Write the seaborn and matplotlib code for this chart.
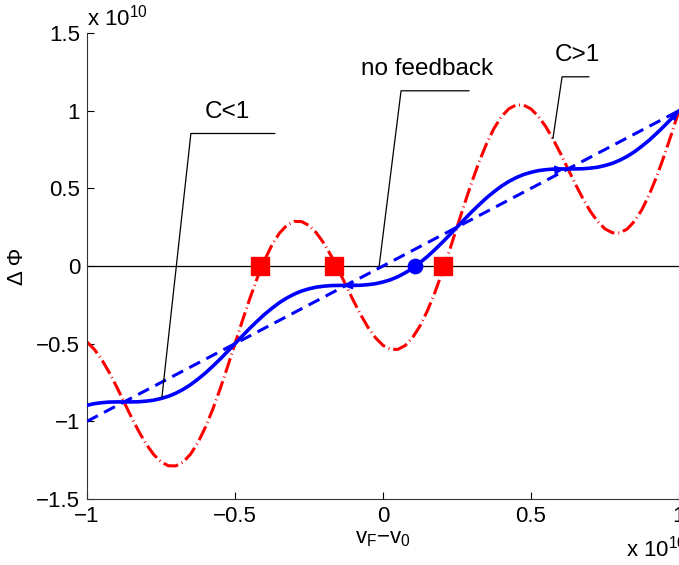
import numpy as np
import pandas as pd
import seaborn as sns
import matplotlib
matplotlib.use("Agg")
import matplotlib.pyplot as plt

# values, in units of 1e10
x_vals = [-1.000, -0.975, -0.950, -0.925, -0.900, -0.875, -0.850, -0.825, -0.800, -0.775,
          -0.750, -0.725, -0.700, -0.675, -0.650, -0.625, -0.600, -0.575, -0.550, -0.525,
          -0.500, -0.475, -0.450, -0.425, -0.400, -0.375, -0.350, -0.325, -0.300, -0.275,
          -0.250, -0.225, -0.200, -0.175, -0.150, -0.125, -0.100, -0.075, -0.050, -0.025,
          0.000, 0.025, 0.050, 0.075, 0.100, 0.125, 0.150, 0.175, 0.200, 0.225,
          0.250, 0.275, 0.300, 0.325, 0.350, 0.375, 0.400, 0.425, 0.450, 0.475,
          0.500, 0.525, 0.550, 0.575, 0.600, 0.625, 0.650, 0.675, 0.700, 0.725,
          0.750, 0.775, 0.800, 0.825, 0.850, 0.875, 0.900, 0.925, 0.950, 0.975, 1.000]
phi_strong = [-0.489, -0.537, -0.603, -0.685, -0.777, -0.875, -0.973, -1.065, -1.147, -1.213,
              -1.261, -1.286, -1.287, -1.262, -1.211, -1.136, -1.038, -0.922, -0.790, -0.648,
              -0.500, -0.352, -0.210, -0.078, 0.038, 0.136, 0.211, 0.262, 0.287, 0.286,
              0.261, 0.213, 0.147, 0.065, -0.027, -0.125, -0.223, -0.315, -0.397, -0.463,
              -0.511, -0.536, -0.537, -0.512, -0.461, -0.386, -0.288, -0.172, -0.040, 0.102,
              0.250, 0.398, 0.540, 0.672, 0.788, 0.886, 0.961, 1.012, 1.037, 1.036,
              1.011, 0.963, 0.897, 0.815, 0.723, 0.625, 0.527, 0.435, 0.353, 0.287,
              0.239, 0.214, 0.213, 0.238, 0.289, 0.364, 0.462, 0.578, 0.710, 0.852, 1.000]
phi_weak = [-0.897, -0.886, -0.880, -0.876, -0.875, -0.875, -0.875, -0.874, -0.870, -0.864,
            -0.853, -0.839, -0.819, -0.794, -0.764, -0.728, -0.689, -0.645, -0.599, -0.550,
            -0.500, -0.450, -0.401, -0.355, -0.311, -0.272, -0.236, -0.206, -0.181, -0.161,
            -0.147, -0.136, -0.130, -0.126, -0.125, -0.125, -0.125, -0.124, -0.120, -0.114,
            -0.103, -0.089, -0.069, -0.044, -0.014, 0.022, 0.061, 0.105, 0.151, 0.200,
            0.250, 0.300, 0.349, 0.395, 0.439, 0.478, 0.514, 0.544, 0.569, 0.589,
            0.603, 0.614, 0.620, 0.624, 0.625, 0.625, 0.625, 0.626, 0.630, 0.636,
            0.647, 0.661, 0.681, 0.706, 0.736, 0.772, 0.811, 0.855, 0.901, 0.950, 1.000]

x_free = [-1.0, 1.0]
phi_free = [-1.0, 1.0]

zeros_strong = [-0.416, -0.166, 0.203]
zero_weak = [0.108]

labels = ["C<1", "no feedback", "C>1"]
xticks = [-1, -0.5, 0, 0.5, 1]
xtick_labels = ["\u22121", "\u22120.5", "0", "0.5", "1"]
yticks = [-1.5, -1, -0.5, 0, 0.5, 1, 1.5]
ytick_labels = ["\u22121.5", "\u22121", "\u22120.5", "0", "0.5", "1", "1.5"]

sns.set_style("ticks")
plt.rcParams["font.family"] = ["Liberation Sans", "DejaVu Sans"]
plt.rcParams["mathtext.default"] = "regular"
plt.rcParams["text.color"] = "black"
plt.rcParams["axes.labelcolor"] = "black"
plt.rcParams["xtick.color"] = "black"
plt.rcParams["ytick.color"] = "black"

W, H = 679, 565
fig = plt.figure(figsize=(W / 100, H / 100), dpi=100)
ax = fig.add_axes([87 / W, 1 - 499 / H, (W - 87) / W, (499 - 33) / H])

ax.axhline(0, color="black", lw=0.9, zorder=1)

sns.lineplot(x=x_vals, y=phi_strong, ax=ax, color="red", lw=2.2,
             linestyle=(0, (5, 1.3, 0.3, 1.3)), zorder=2)
sns.lineplot(x=x_free, y=phi_free, ax=ax, color="blue", lw=2.2,
             linestyle=(0, (4, 2.3)), zorder=3)
sns.lineplot(x=x_vals, y=phi_weak, ax=ax, color="blue", lw=2.6, zorder=4)

# direction arrows on the solid curve
for tail, tip in [((-0.09, -0.118), (-0.135, -0.128)),
                  ((0.57, 0.617), (0.612, 0.622)),
                  ((0.965, 0.93), (0.998, 0.998))]:
    ax.annotate("", xy=tip, xytext=tail,
                arrowprops=dict(arrowstyle="-|>", color="blue", lw=1.2,
                                mutation_scale=13, shrinkA=0, shrinkB=0),
                zorder=5)

sns.scatterplot(x=zeros_strong, y=[0] * len(zeros_strong), ax=ax, marker="s",
                s=150, color="red", edgecolor="red", zorder=6)
sns.scatterplot(x=zero_weak, y=[0], ax=ax, marker="o", s=110, color="blue",
                edgecolor="blue", zorder=6)

# callouts
callouts = [
    ((-0.747, -0.846), (-0.649, 0.853), (-0.365, 0.853), (-0.527, 0.99)),
    ((-0.013, 0.0), (0.061, 1.128), (0.291, 1.128), (0.149, 1.27)),
    ((0.574, 0.82), (0.605, 1.218), (0.696, 1.218), (0.655, 1.36)),
]
for text, (p0, p1, p2, tpos) in zip(labels, callouts):
    ax.plot([p0[0], p1[0], p2[0]], [p0[1], p1[1], p2[1]], color="black",
            lw=0.9, zorder=7)
    ax.text(tpos[0], tpos[1], text, ha="center", va="center", fontsize=17.5)

ax.set_xlim(-1, 1)
ax.set_ylim(-1.5, 1.5)
ax.set_xticks(xticks, xtick_labels)
ax.set_yticks(yticks, ytick_labels)
ax.tick_params(direction="in", length=5, width=0.8, labelsize=16, pad=5)
sns.despine(ax=ax)
for s in ["left", "bottom"]:
    ax.spines[s].set_linewidth(0.8)
    ax.spines[s].set_color("#333333")

ax.set_xlabel("v$_F$\u2212v$_0$", fontsize=16, labelpad=1)
ax.set_ylabel("\u0394 \u03a6", fontsize=16, labelpad=6)

fig.text(87 / W, 1 - 18 / H, "x 10$^{10}$", fontsize=16, va="center", ha="left")
fig.text(626 / W, 1 - 549 / H, "x 10$^{10}$", fontsize=16, va="center", ha="left")

fig.savefig("out.png", dpi=100)
